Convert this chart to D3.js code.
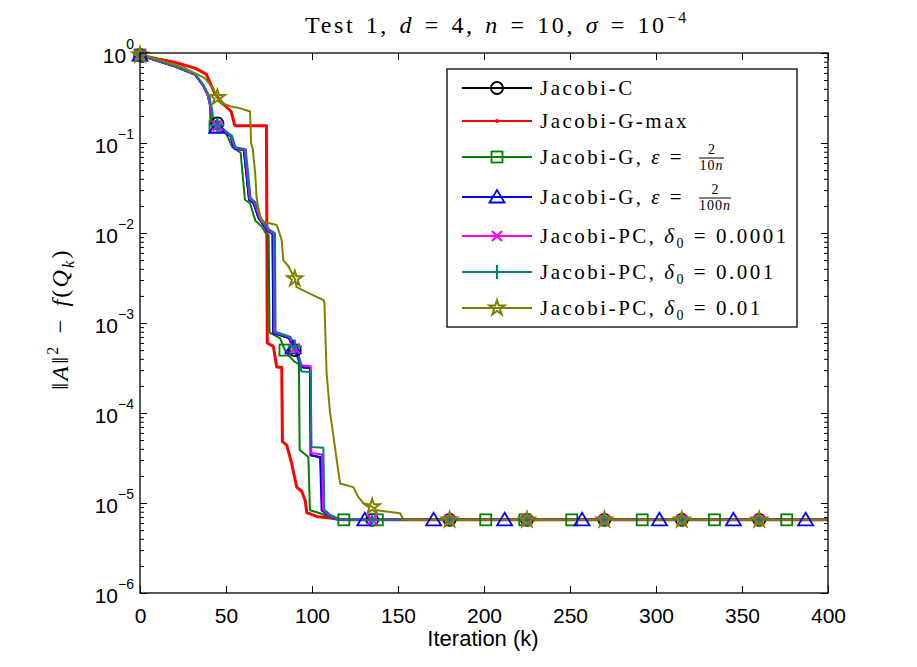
<!DOCTYPE html>
<html><head><meta charset="utf-8">
<script src="https://cdn.jsdelivr.net/npm/d3@7"></script>
<style>body{margin:0;background:#fff;} svg{display:block;}</style>
</head><body><svg id="c" width="917" height="667"></svg>
<script>
// ---------------- data ----------------
const xTicks = [0, 50, 100, 150, 200, 250, 300, 350, 400];
const yExponents = [-6, -5, -4, -3, -2, -1, 0];
const legendNames = ["Jacobi-C", "Jacobi-G-max", "Jacobi-G, ε =", "Jacobi-G, ε =", "Jacobi-PC, δ0 = 0.0001", "Jacobi-PC, δ0 = 0.001", "Jacobi-PC, δ0 = 0.01"];

const jacobiC = [[0,0.95],[9,0.83],[20,0.71],[32,0.575],[36.5,0.44],[39.4,0.34],[41.5,0.23],[42.3,0.17],[45,0.165],[52.7,0.12],[54.6,0.088],[60.4,0.083],[63.4,0.0234],[66,0.0214],[69,0.0145],[74,0.0107],[77,0.0098],[77.5,7.7e-4],[81,7.4e-4],[86.6,6.8e-4],[90,5.0e-4],[92,4.3e-4],[93.5,3.25e-4],[99,3.15e-4],[99.3,3.4e-5],[105,3.2e-5],[106,8.3e-6],[109,7.4e-6],[115,6.6e-6],[120,6.5e-6],[400,6.5e-6]];
const jacobiGmax = [[0,0.95],[9,0.87],[20,0.79],[32,0.68],[38.6,0.58],[43.5,0.355],[48,0.275],[53,0.224],[55,0.158],[56,0.155],[73.5,0.155],[74,6.0e-4],[77.5,5.5e-4],[79.5,3.25e-4],[82.4,3.2e-4],[82.8,4.8e-5],[85.3,4.4e-5],[88.2,2.75e-5],[91.1,1.5e-5],[94,1.35e-5],[96,1.07e-5],[97,7.8e-6],[102.7,7.1e-6],[110.5,6.8e-6],[118,6.5e-6],[400,6.5e-6]];
const jacobiG10 = [[0,0.95],[9,0.83],[20,0.71],[32,0.575],[36.5,0.44],[39.4,0.34],[40.5,0.32],[41,0.16],[44,0.15],[50,0.129],[53.5,0.091],[58.5,0.078],[61,0.0234],[64,0.0214],[67,0.0138],[71,0.0117],[73,0.0100],[74.8,0.0095],[75.3,7.8e-4],[81.4,6.8e-4],[84.3,5.0e-4],[86.2,4.4e-4],[90,3.7e-4],[92.4,3.5e-4],[92.8,3.9e-5],[97.9,3.25e-5],[98.8,8.3e-6],[104.7,7.7e-6],[112.4,6.7e-6],[116,6.5e-6],[400,6.5e-6]];
const jacobiG100 = [[0,0.95],[9,0.83],[20,0.71],[32,0.575],[36.5,0.44],[39.4,0.34],[41.5,0.23],[42.3,0.16],[44,0.152],[52.7,0.118],[54.6,0.087],[60.4,0.083],[63.4,0.0234],[66,0.0214],[69,0.0145],[74,0.0107],[76,0.0100],[77.2,0.0098],[77.5,7.7e-4],[80.7,7.4e-4],[86.6,6.8e-4],[89,5.3e-4],[91.4,4.3e-4],[93.3,3.25e-4],[98.8,3.15e-4],[99.2,3.4e-5],[104.7,3.25e-5],[105.6,8.3e-6],[108.8,7.4e-6],[114.6,6.6e-6],[120,6.5e-6],[400,6.5e-6]];
const jacobiPC4 = [[0,0.95],[9,0.83],[20,0.71],[32,0.575],[36.5,0.44],[39.4,0.34],[41.5,0.23],[42.3,0.165],[45,0.155],[53,0.12],[55,0.089],[61,0.084],[63.8,0.024],[66.5,0.0218],[69.5,0.0148],[74.5,0.0108],[77.8,0.0098],[78.1,7.9e-4],[81,7.6e-4],[87,7.0e-4],[90,5.2e-4],[92,4.4e-4],[94,3.4e-4],[99.3,3.3e-4],[99.6,3.6e-5],[105.8,3.45e-5],[106.4,8.4e-6],[109.5,7.4e-6],[115,6.6e-6],[121,6.5e-6],[400,6.5e-6]];
const jacobiPC3 = [[0,0.95],[9,0.84],[20,0.72],[32,0.585],[37,0.44],[40,0.34],[42,0.23],[42.8,0.165],[45,0.158],[53.5,0.12],[55.5,0.09],[61.5,0.085],[64.3,0.0245],[67,0.022],[70,0.015],[75,0.011],[78,0.0101],[78.5,0.0099],[78.8,8.0e-4],[82,7.6e-4],[87.5,7.0e-4],[90.5,5.2e-4],[92.5,4.3e-4],[93.8,2.9e-4],[99.3,2.85e-4],[99.6,4.2e-5],[106.6,4.1e-5],[107.2,8.4e-6],[110.5,7.4e-6],[116,6.6e-6],[122,6.5e-6],[400,6.5e-6]];
const jacobiPC2 = [[0,0.95],[9,0.87],[26,0.68],[37.7,0.525],[42.3,0.41],[45,0.32],[49.3,0.27],[53,0.255],[58,0.244],[64,0.224],[64.6,0.1],[65.6,0.085],[67,0.045],[67.8,0.025],[69,0.018],[70.7,0.0135],[79.5,0.0123],[82.4,0.0083],[83.3,0.005],[86.2,0.0043],[90,0.0031],[91.1,0.0025],[96.9,0.0022],[102.7,0.00195],[106.6,0.0018],[107.2,0.0017],[108.5,2.75e-4],[110.5,1.0e-4],[111.4,7.7e-5],[114.4,3.0e-5],[116.3,1.65e-5],[124,1.5e-5],[126.9,1.17e-5],[129.8,1.0e-5],[135,9.1e-6],[137.6,8.3e-6],[151.2,7.7e-6],[153,6.6e-6],[160,6.5e-6],[400,6.5e-6]];

const marksEvery45 = [0, 45, 90, 135, 180, 225, 270, 315, 360];
const marksG10 = [0, 43.6, 84.3, 118.5, 138, 201, 223.7, 251, 292, 334, 376];
const marksG100 = [0, 44.6, 89, 130.7, 170.7, 212, 257, 302, 345, 387];

// ---------------- setup ----------------
const svg = d3.select("#c");
svg.append("rect").attr("width", 917).attr("height", 667).attr("fill", "#fff");
const L = 140, R = 828, T = 53, B = 593;
const x = d3.scaleLinear().domain([0, 400]).range([L, R]);
const y = d3.scaleLog().domain([1e-6, 1]).range([B, T]);

const series = [
  {data: jacobiC, color: "#000000", width: 2, marker: "circle", marks: marksEvery45},
  {data: jacobiGmax, color: "#ff0000", width: 3, marker: "dot", marks: []},
  {data: jacobiG10, color: "#008000", width: 2, marker: "square", marks: marksG10},
  {data: jacobiG100, color: "#0000ff", width: 2, marker: "triangle", marks: marksG100},
  {data: jacobiPC4, color: "#ff00ff", width: 2, marker: "x", marks: marksEvery45},
  {data: jacobiPC3, color: "#008080", width: 2, marker: "plus", marks: marksEvery45},
  {data: jacobiPC2, color: "#808000", width: 2, marker: "star", marks: marksEvery45}
];

function interp(data, xv) {
  for (let i = 0; i < data.length - 1; i++) {
    const a = data[i], b = data[i + 1];
    if (xv >= a[0] && xv <= b[0]) {
      const t = b[0] === a[0] ? 0 : (xv - a[0]) / (b[0] - a[0]);
      return Math.pow(10, Math.log10(a[1]) + t * (Math.log10(b[1]) - Math.log10(a[1])));
    }
  }
  return data[data.length - 1][1];
}

function drawMarker(g, type, cx, cy, color) {
  const sw = 1.8;
  if (type === "circle") {
    g.append("circle").attr("cx", cx).attr("cy", cy).attr("r", 6).attr("fill", "none").attr("stroke", color).attr("stroke-width", sw);
  } else if (type === "dot") {
    g.append("circle").attr("cx", cx).attr("cy", cy).attr("r", 2).attr("fill", color);
  } else if (type === "square") {
    g.append("rect").attr("x", cx - 5.5).attr("y", cy - 5.5).attr("width", 11).attr("height", 11).attr("fill", "none").attr("stroke", color).attr("stroke-width", sw);
  } else if (type === "triangle") {
    g.append("path").attr("d", `M${cx},${cy - 7}L${cx + 7.5},${cy + 5.5}L${cx - 7.5},${cy + 5.5}Z`).attr("fill", "none").attr("stroke", color).attr("stroke-width", sw);
  } else if (type === "x") {
    g.append("path").attr("d", `M${cx - 5},${cy - 5}L${cx + 5},${cy + 5}M${cx - 5},${cy + 5}L${cx + 5},${cy - 5}`).attr("stroke", color).attr("stroke-width", 2.2);
  } else if (type === "plus") {
    g.append("path").attr("d", `M${cx - 7},${cy}L${cx + 7},${cy}M${cx},${cy - 7}L${cx},${cy + 7}`).attr("stroke", color).attr("stroke-width", 2.2);
  } else if (type === "star") {
    g.append("path").attr("transform", `translate(${cx},${cy})`).attr("d", d3.symbol(d3.symbolStar, 70)()).attr("fill", "none").attr("stroke", color).attr("stroke-width", 2);
  }
}

// ---------------- axes ----------------
const sans = "Liberation Sans, Arial, sans-serif";
const axG = svg.append("g").attr("font-family", sans);
const minorVals = [];
yExponents.slice(0, -1).forEach(e => { for (let m = 2; m <= 9; m++) minorVals.push(m * Math.pow(10, e)); });
const majorVals = yExponents.map(e => Math.pow(10, e));

function styleAxis(g) { g.select(".domain").remove(); g.selectAll(".tick line").attr("stroke", "#000").attr("stroke-width", 1); }

axG.append("g").attr("transform", `translate(0,${B})`).call(d3.axisBottom(x).tickValues(xTicks).tickSizeInner(-7).tickSizeOuter(0).tickPadding(15).tickFormat(d3.format("d")))
  .call(styleAxis).call(g => g.selectAll("text").attr("font-size", 21).attr("fill", "#000").attr("font-family", sans));
axG.append("g").attr("transform", `translate(0,${T})`).call(d3.axisTop(x).tickValues(xTicks).tickSizeInner(-7).tickSizeOuter(0).tickFormat(""))
  .call(styleAxis);
axG.append("g").attr("transform", `translate(${L},0)`).call(d3.axisLeft(y).tickValues(minorVals).tickSizeInner(-4).tickSizeOuter(0).tickFormat("")).call(styleAxis);
axG.append("g").attr("transform", `translate(${R},0)`).call(d3.axisRight(y).tickValues(minorVals).tickSizeInner(-4).tickSizeOuter(0).tickFormat("")).call(styleAxis);
axG.append("g").attr("transform", `translate(${R},0)`).call(d3.axisRight(y).tickValues(majorVals).tickSizeInner(-7).tickSizeOuter(0).tickFormat("")).call(styleAxis);
const yl = axG.append("g").attr("transform", `translate(${L},0)`).call(d3.axisLeft(y).tickValues(majorVals).tickSizeInner(-7).tickSizeOuter(0).tickFormat("")).call(styleAxis);
yl.selectAll(".tick").each(function(d) {
  const t = d3.select(this).append("text").attr("x", -6).attr("y", 9).attr("text-anchor", "end").attr("fill", "#000")
    .attr("font-size", 21).attr("font-family", sans);
  t.append("tspan").text("10");
  const e = Math.round(Math.log10(d));
  t.append("tspan").attr("font-size", 14).attr("dy", -14).text(e < 0 ? "\u2212" + (-e) : String(e));
});

// ---------------- series ----------------
svg.append("clipPath").attr("id", "clip").append("rect").attr("x", L).attr("y", T - 10).attr("width", R - L).attr("height", B - T + 10);
const plot = svg.append("g").attr("clip-path", "url(#clip)");
const line = d3.line().x(d => x(d[0])).y(d => y(d[1]));
series.forEach(s => {
  plot.append("path").datum(s.data).attr("d", line).attr("fill", "none").attr("stroke", s.color).attr("stroke-width", s.width).attr("stroke-linejoin", "round");
});
const markG = svg.append("g");
series.forEach(s => {
  s.marks.forEach(m => drawMarker(markG, s.marker, x(m), y(interp(s.data, m)), s.color));
});

// box
svg.append("rect").attr("x", L).attr("y", T).attr("width", R - L).attr("height", B - T).attr("fill", "none").attr("stroke", "#000").attr("stroke-width", 1.3);

// ---------------- labels ----------------
const serif = "Liberation Serif, Times New Roman, serif";
const title = svg.append("text").attr("x", 497).attr("y", 33).attr("text-anchor", "middle").attr("font-family", serif).attr("font-size", 24).attr("letter-spacing", 2.6).attr("word-spacing", 2).attr("fill", "#000");
title.append("tspan").text("Test 1, ");
title.append("tspan").attr("font-style", "italic").text("d");
title.append("tspan").text(" = 4, ");
title.append("tspan").attr("font-style", "italic").text("n");
title.append("tspan").text(" = 10, ");
title.append("tspan").attr("font-style", "italic").text("σ");
title.append("tspan").text(" = 10");
title.append("tspan").attr("font-size", 16).attr("dy", -10).text("\u22124");

svg.append("text").attr("x", 483).attr("y", 646).attr("text-anchor", "middle").attr("font-family", sans).attr("font-size", 22).attr("fill", "#000").text("Iteration (k)");

const ylab = svg.append("text").attr("transform", "translate(68,319) rotate(-90)").attr("text-anchor", "middle").attr("font-family", serif).attr("font-size", 24).attr("letter-spacing", 2.2).attr("word-spacing", 3).attr("fill", "#000");
ylab.append("tspan").text("\u2016");
ylab.append("tspan").attr("font-style", "italic").text("A");
ylab.append("tspan").text("\u2016");
ylab.append("tspan").attr("font-size", 16).attr("dy", -10).text("2");
ylab.append("tspan").attr("dy", 10).text(" \u2212 ");
ylab.append("tspan").attr("font-style", "italic").text("f");
ylab.append("tspan").text("(");
ylab.append("tspan").attr("font-style", "italic").text("Q");
ylab.append("tspan").attr("font-style", "italic").attr("font-size", 16).attr("dy", 6).text("k");
ylab.append("tspan").attr("dy", -6).text(")");

// ---------------- legend ----------------
const lg = svg.append("g");
lg.append("rect").attr("x", 447).attr("y", 69).attr("width", 350).attr("height", 258).attr("fill", "#fff").attr("stroke", "#000").attr("stroke-width", 1.3);
const rowY = [88, 121, 157, 197, 236, 272, 308];
series.forEach((s, i) => {
  const ry = rowY[i];
  lg.append("line").attr("x1", 462).attr("x2", 532).attr("y1", ry).attr("y2", ry).attr("stroke", s.color).attr("stroke-width", 2);
  drawMarker(lg, s.marker, 497, ry, s.color);
  const t = lg.append("text").attr("x", 540).attr("y", ry + 7).attr("font-family", serif).attr("font-size", 21).attr("letter-spacing", 2.5).attr("fill", "#000");
  const name = legendNames[i];
  if (name.includes("ε")) {
    t.append("tspan").text("Jacobi-G, ");
    t.append("tspan").attr("font-style", "italic").text("ε");
    t.append("tspan").text(" =");
    const den = i === 2 ? "10" : "100";
    const fx = 699, fw = i === 2 ? 25 : 32;
    lg.append("text").attr("x", fx + fw / 2).attr("y", ry - 3).attr("text-anchor", "middle").attr("font-family", serif).attr("font-size", 14).attr("fill", "#000").text("2");
    lg.append("line").attr("x1", fx).attr("x2", fx + fw).attr("y1", ry + 1).attr("y2", ry + 1).attr("stroke", "#000").attr("stroke-width", 1);
    const dt = lg.append("text").attr("x", fx + fw / 2).attr("y", ry + 13).attr("text-anchor", "middle").attr("font-family", serif).attr("font-size", 14).attr("letter-spacing", 1).attr("fill", "#000");
    dt.append("tspan").text(den);
    dt.append("tspan").attr("font-style", "italic").text("n");
  } else if (name.includes("δ0")) {
    const parts = name.split("δ0");
    t.append("tspan").text(parts[0]);
    t.append("tspan").attr("font-style", "italic").text("δ");
    t.append("tspan").attr("font-size", 14).attr("dy", 5).text("0");
    t.append("tspan").attr("dy", -5).text(parts[1]);
  } else {
    t.text(name);
  }
});
</script></body></html>
